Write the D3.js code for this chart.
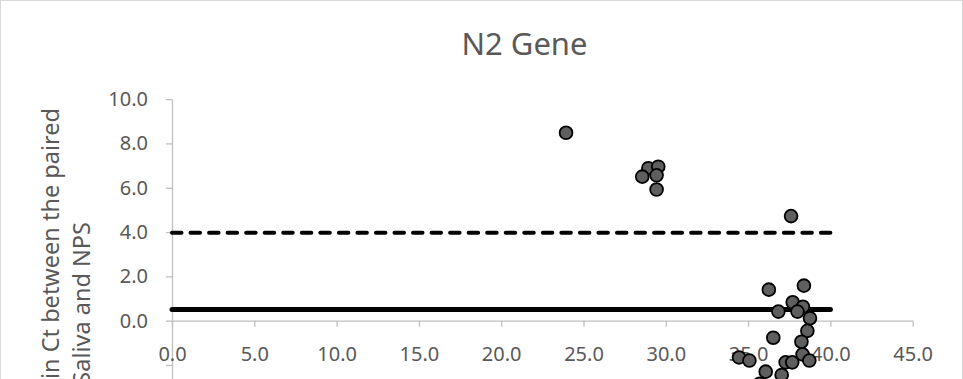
<!DOCTYPE html>
<html lang="en">
<head>
  <meta charset="UTF-8">
  <title>N2 Gene</title>
  <script src="https://d3js.org/d3.v7.min.js"></script>
  <style>
    body {
      margin: 0;
      background: #fff;
      font-family: "Noto Sans", "Open Sans", sans-serif;
    }

    svg {
      display: block;
    }

    .axis text {
      font-family: "Noto Sans", sans-serif;
      font-size: 20px;
      fill: #595959;
    }

    .axis path,
    .axis line {
      stroke: #bfbfbf;
      stroke-width: 1.3;
    }
  </style>
</head>
<body>
  <svg width="963" height="379"></svg>

  <script>
    // mean Ct (x) vs difference in Ct saliva - NPS (y)
    const meanCt = [
      23.94, 28.94, 29.54, 28.57, 29.44, 29.44, 37.61,
      36.26, 38.39, 37.71, 38.33, 38.0, 36.84, 38.76,
      38.60, 36.53, 38.24, 38.31, 38.72, 37.28, 37.68,
      34.45, 35.08, 36.07, 37.04, 35.7
    ];
    const diffCt = [
      8.48, 6.88, 6.95, 6.50, 6.56, 5.92, 4.72,
      1.40, 1.58, 0.83, 0.63, 0.41, 0.41, 0.11,
      -0.46, -0.77, -0.95, -1.52, -1.80, -1.88, -1.88,
      -1.66, -1.80, -2.30, -2.45, -2.85
    ];

    // reference lines: mean difference and upper limit
    const lineRange = [0, 40];
    const meanDiff = 0.5;
    const upperLimit = 3.97;

    const xTicks = [0, 5, 10, 15, 20, 25, 30, 35, 40, 45];
    const yTicks = [-4, -2, 0, 2, 4, 6, 8, 10];

    const title = "N2 Gene";
    const yTitle = ["Difference in Ct between the paired", "Saliva and NPS"];

    const width = 963;
    const height = 379;

    const svg = d3.select("svg");

    // chart area border
    svg.append("rect")
      .attr("x", 0.5)
      .attr("y", 0.5)
      .attr("width", width - 1)
      .attr("height", height + 20)
      .attr("fill", "none")
      .attr("stroke", "#d9d9d9");

    const x = d3.scaleLinear()
      .domain([0, 45])
      .range([172, 912.7]);

    const y = d3.scaleLinear()
      .domain([-4, 10])
      .range([409.3, 99.1]);

    // y axis
    svg.append("g")
      .attr("class", "axis")
      .attr("transform", `translate(${x(0)},0)`)
      .call(d3.axisLeft(y)
        .tickValues(yTicks)
        .tickSize(6)
        .tickSizeOuter(0)
        .tickPadding(18)
        .tickFormat(d => d < 0 ? "" : d.toFixed(1)));

    // x axis crossing at y = 0
    svg.append("g")
      .attr("class", "axis")
      .attr("transform", `translate(0,${y(0)})`)
      .call(d3.axisBottom(x)
        .tickValues(xTicks)
        .tickSize(6)
        .tickSizeOuter(0)
        .tickPadding(20)
        .tickFormat(d => d.toFixed(1)));

    // mean line
    svg.append("line")
      .attr("x1", x(lineRange[0]))
      .attr("x2", x(lineRange[1]))
      .attr("y1", y(meanDiff))
      .attr("y2", y(meanDiff))
      .attr("stroke", "#000")
      .attr("stroke-width", 5)
      .attr("stroke-linecap", "round");

    // upper limit, dashed (pattern fitted so the last dash ends at x = 40)
    const dashLen = x(lineRange[1]) - x(lineRange[0]);
    const dash = 9.5;
    const period = (dashLen - dash) / 35;
    svg.append("line")
      .attr("x1", x(lineRange[0]))
      .attr("x2", x(lineRange[1]))
      .attr("y1", y(upperLimit))
      .attr("y2", y(upperLimit))
      .attr("stroke", "#000")
      .attr("stroke-width", 4)
      .attr("stroke-linecap", "round")
      .attr("stroke-dasharray", `${dash} ${period - dash}`);

    // points
    svg.append("g")
      .selectAll("circle")
      .data(meanCt.map((d, i) => ({ x: d, y: diffCt[i] })))
      .join("circle")
      .attr("cx", d => x(d.x))
      .attr("cy", d => y(d.y))
      .attr("r", 6.4)
      .attr("fill", "#5f5f5f")
      .attr("stroke", "#000")
      .attr("stroke-width", 1.8);

    // title
    svg.append("text")
      .attr("x", 524.5)
      .attr("y", 55)
      .attr("text-anchor", "middle")
      .attr("font-size", 31)
      .attr("fill", "#595959")
      .text(title);

    // y axis title, two lines rotated
    const yt = svg.append("text")
      .attr("transform", "rotate(-90)")
      .attr("text-anchor", "end")
      .attr("font-size", 23.5)
      .attr("fill", "#595959");

    yt.append("tspan")
      .attr("x", -108)
      .attr("y", 59)
      .text(yTitle[0]);

    yt.append("tspan")
      .attr("x", -222)
      .attr("y", 90)
      .text(yTitle[1]);
  </script>
</body>
</html>
